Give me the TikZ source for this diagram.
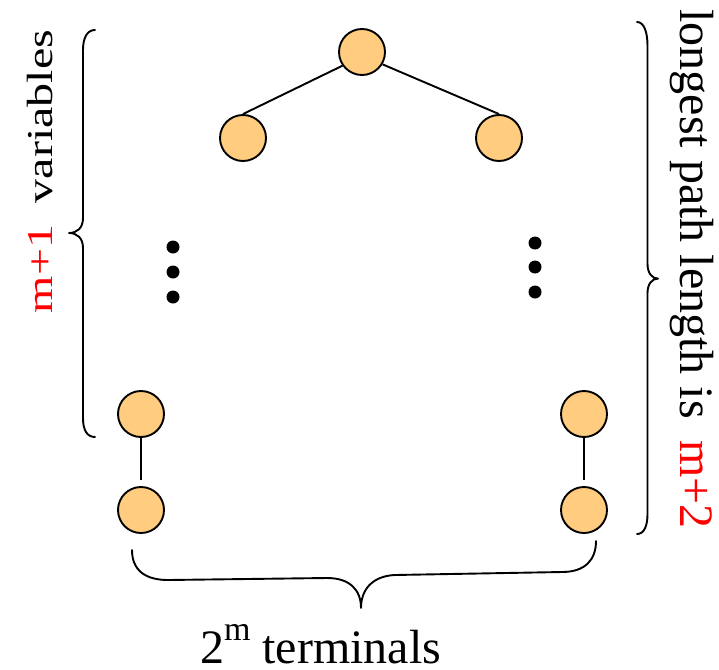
\documentclass[tikz,border=0pt]{standalone}
\usepackage{graphicx}
\usepackage{fontspec}
\setmainfont{Liberation Serif}
\definecolor{nodefill}{RGB}{255,204,128}
\begin{document}
\begin{tikzpicture}[x=1pt,y=-1pt,
  vertex/.style={circle, draw=black, fill=nodefill, line width=1.9pt,
                 minimum size=46pt, inner sep=0pt},
  link/.style={line width=1.9pt},
  bracepath/.style={line width=1.9pt, line cap=round, line join=round},
  txt/.style={inner sep=0pt, font=\fontsize{48}{48}\selectfont}]
\useasboundingbox (0,0) rectangle (719,669);

% tree nodes
\node[vertex] (top) at (362,52) {};
\node[vertex] (l1) at (243,138) {};
\node[vertex] (r1) at (499,138) {};
\node[vertex] (l2) at (141,414) {};
\node[vertex] (l3) at (141,510) {};
\node[vertex] (r2) at (584,414) {};
\node[vertex] (r3) at (584,510) {};

% edges
\draw[link] (top.215) -- (l1.north);
\draw[link] (top.-31) -- (r1.north);
\draw[link, shorten >=6pt] (l2.south) -- (l3.north);
\draw[link, shorten >=6pt] (r2.south) -- (r3.north);

% vertical ellipses
\foreach \y in {247,272,297} \fill (173,\y) circle (6.5pt);
\foreach \y in {243,267,292} \fill (535,\y) circle (6.5pt);

% left brace
\draw[bracepath] (95,30) .. controls (87,30) and (83,38) .. (83,50)
  -- (83,218) .. controls (83,228) and (77,233) .. (69,233)
  .. controls (77,233) and (83,238) .. (83,248)
  -- (83,418) .. controls (83,430) and (87,437) .. (95,437);

% right brace
\draw[bracepath] (637,22) .. controls (644,22) and (647.5,32) .. (647.5,46)
  -- (647.5,264) .. controls (647.5,273) and (652,278.6) .. (658,278.6)
  .. controls (652,278.6) and (647.5,284) .. (647.5,293)
  -- (647.5,514) .. controls (647.5,526) and (644,534) .. (637,534);

% bottom brace
\draw[bracepath] (132,550) .. controls (132,570) and (145,580) .. (168,580)
  -- (327,578) .. controls (350,578) and (361,590) .. (361,608)
  .. controls (361,590) and (372,576) .. (395,575)
  -- (562,572) .. controls (585,572) and (596,560) .. (596,541);

% labels
\node[txt, rotate=90, anchor=base] (vars) at (52,171.5)
  {\scalebox{1}[0.76]{\textcolor{red}{m+1}\hspace{0.45em}variables}};
\node[txt, rotate=-90, anchor=base] (plen) at (680,269.3)
  {longest path length is\hspace{0.45em}\textcolor{red}{m+2}};
\node[txt, anchor=base west] (terms) at (200,663)
  {\raisebox{0pt}[\height][0pt]{2\raisebox{23pt}{\fontsize{34}{34}\selectfont m} terminals}};
\end{tikzpicture}
\end{document}
